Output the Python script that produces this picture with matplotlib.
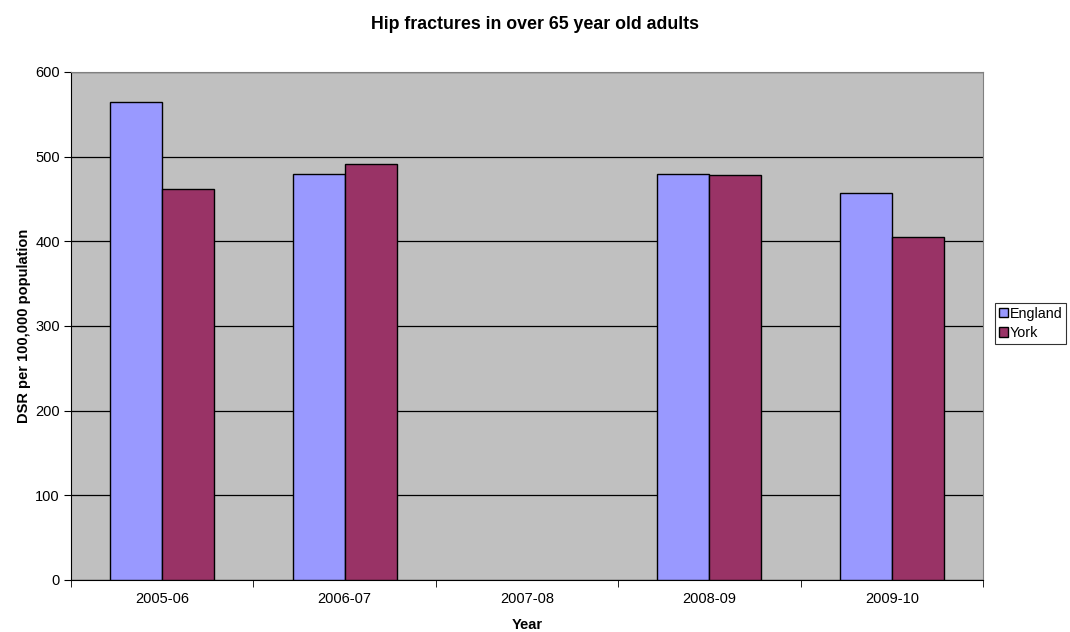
import numpy as np
import matplotlib
matplotlib.use("Agg")
import matplotlib.pyplot as plt
from matplotlib.ticker import FixedLocator

plt.rcParams['font.family'] = ['Liberation Sans', 'DejaVu Sans']

years = ["2005-06", "2006-07", "2007-08", "2008-09", "2009-10"]
england = [565, 479, np.nan, 479, 457]
york = [462, 491, np.nan, 478, 405]

fig = plt.figure(figsize=(10.7, 6.32), dpi=100)
ax = fig.add_axes([0.0664, 0.0823, 0.8523, 0.8038])
ax.set_facecolor("#C0C0C0")

x = np.arange(len(years))
w = 0.285
ax.bar(x - w/2, england, w, color="#9999FF", edgecolor="black", linewidth=1, label="England", zorder=3)
ax.bar(x + w/2, york, w, color="#993366", edgecolor="black", linewidth=1, label="York", zorder=3)

ax.set_xlim(-0.5, len(years) - 0.5)
ax.set_ylim(0, 600)
ax.set_yticks(np.arange(0, 601, 100))
ax.yaxis.grid(True, color="black", linewidth=0.9, zorder=1)
ax.set_axisbelow(True)

# category labels centred, tick marks between categories
ax.set_xticks(x)
ax.set_xticklabels(years, fontsize=10.5)
ax.tick_params(axis='x', which='major', length=0, pad=9)
ax.xaxis.set_minor_locator(FixedLocator(np.arange(-0.5, len(years), 1)))
ax.tick_params(axis='x', which='minor', length=5, direction='out', color="black")
ax.tick_params(axis='y', length=5, direction='out', labelsize=10.5, color="black", pad=3)

for s in ['top', 'right']:
    ax.spines[s].set_color("#808080")
for s in ['left', 'bottom']:
    ax.spines[s].set_color("black")

ax.set_xlabel("Year", fontsize=10.5, fontweight='bold')
ax.xaxis.set_label_coords(0.5, -0.075)
ax.set_ylabel("DSR per 100,000 population", fontsize=10.5, fontweight='bold')
ax.yaxis.set_label_coords(-0.044, 0.5)
fig.text(0.5, 0.961, "Hip fractures in over 65 year old adults", fontsize=12.8,
         fontweight='bold', ha='center', va='center')

leg = fig.legend(loc='upper left', bbox_to_anchor=(0.930, 0.5206), fontsize=10.3,
                 frameon=True, fancybox=False, edgecolor="black", handlelength=0.65,
                 handleheight=0.65, handletextpad=0.15, borderpad=0.25, labelspacing=0.4,
                 borderaxespad=0)
leg.get_frame().set_linewidth(0.8)

fig.savefig("out.png", dpi=100)
